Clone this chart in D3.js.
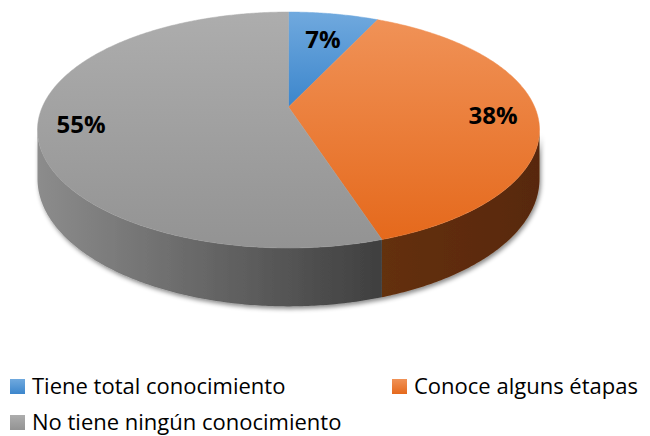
<!DOCTYPE html>
<html><head><meta charset="utf-8">
<script src="https://cdn.jsdelivr.net/npm/d3@7"></script>
<style>body{margin:0;background:#fff}svg{display:block}</style>
</head><body>
<svg id="c" width="650" height="436"></svg>
<script>
const categories = ["Tiene total conocimiento", "Conoce alguns étapas", "No tiene ningún conocimiento"];
const values = [7, 38, 55];
const labels = ["7%", "38%", "55%"];
const topColors = [["#70a9de", "#3c86cc"], ["#f09257", "#e5691c"], ["#adadad", "#939393"]];
const sideColors = [["#3a6fa8", "#2b5a8c"], ["#64300f", "#582808"], ["#8c8c8c", "#3f3f3f"]];

const svg = d3.select("#c");
const defs = svg.append("defs");

// projection of a tilted disc with perspective
const X0 = 288.5, Y0 = 107, K = 0.195, A = 251 * Math.sqrt(1 - K * K), B = 113.5, H = 47;
function proj(theta, h) {
  const u = Math.sin(theta), v = Math.cos(theta);
  const s = 1 / (1 + K * v);
  return [X0 + A * u * s, Y0 - B * v * s + H * s * h];
}
function arcPts(a0, a1, h) {
  const n = Math.max(2, Math.ceil((a1 - a0) / 0.01));
  return d3.range(n + 1).map(i => proj(a0 + (a1 - a0) * i / n, h));
}
const line = d3.line();

const pie = d3.pie().sort(null).value(d => d)(values);

topColors.forEach((c, i) => {
  const g = defs.append("linearGradient").attr("id", "t" + i).attr("x1", 0).attr("y1", 0).attr("x2", 0).attr("y2", 1);
  g.append("stop").attr("offset", "0%").attr("stop-color", c[0]);
  g.append("stop").attr("offset", "100%").attr("stop-color", c[1]);
  const s = defs.append("linearGradient").attr("id", "s" + i).attr("x1", 0).attr("y1", 0).attr("x2", 1).attr("y2", 0);
  s.append("stop").attr("offset", "0%").attr("stop-color", sideColors[i][0]);
  s.append("stop").attr("offset", "100%").attr("stop-color", sideColors[i][1]);
  const l = defs.append("linearGradient").attr("id", "l" + i).attr("x1", 0).attr("y1", 0).attr("x2", 0).attr("y2", 1);
  l.append("stop").attr("offset", "0%").attr("stop-color", c[0]);
  l.append("stop").attr("offset", "100%").attr("stop-color", c[1]);
});

const f = defs.append("filter").attr("id", "sh").attr("x", "-10%").attr("y", "-10%").attr("width", "120%").attr("height", "130%");
f.append("feDropShadow").attr("dx", 1.5).attr("dy", 2.5).attr("stdDeviation", 2).attr("flood-color", "#000").attr("flood-opacity", 0.45);

// visible side range
const vMin = Math.acos(-K), vMax = 2 * Math.PI - Math.acos(-K);
const sideG = svg.append("g").attr("filter", "url(#sh)");
pie.forEach((p, i) => {
  const b0 = Math.max(p.startAngle, vMin), b1 = Math.min(p.endAngle, vMax);
  if (b1 <= b0) return;
  const pts = arcPts(b0, b1, 0).concat(arcPts(b0, b1, 1).reverse());
  sideG.append("path").attr("d", line(pts) + "Z").attr("fill", `url(#s${i})`);
});

const topG = svg.append("g");
pie.forEach((p, i) => {
  const pts = [[X0, Y0]].concat(arcPts(p.startAngle, p.endAngle, 0));
  topG.append("path").attr("d", line(pts) + "Z").attr("fill", `url(#t${i})`)
    .attr("stroke", `url(#t${i})`).attr("stroke-width", 0.5);
});

// data labels
const labelPos = [[323, 48], [493, 124], [81, 133]];
svg.append("g").selectAll("text").data(labels).join("text")
  .attr("x", (d, i) => labelPos[i][0]).attr("y", (d, i) => labelPos[i][1])
  .attr("text-anchor", "middle")
  .style("font-family", "'Open Sans', sans-serif").style("font-weight", 700).style("font-size", "24px")
  .attr("fill", "#000").text(d => d);

// legend
const legPos = [[10, 379], [392, 379], [10, 415]];
const lg = svg.append("g");
categories.forEach((c, i) => {
  lg.append("rect").attr("x", legPos[i][0]).attr("y", legPos[i][1]).attr("width", 15).attr("height", 15).attr("fill", `url(#l${i})`);
  lg.append("text").attr("x", legPos[i][0] + 22).attr("y", legPos[i][1] + 15)
    .style("font-family", "'Open Sans', sans-serif").style("font-size", "22px").attr("fill", "#000").text(c);
});
</script>
</body></html>
